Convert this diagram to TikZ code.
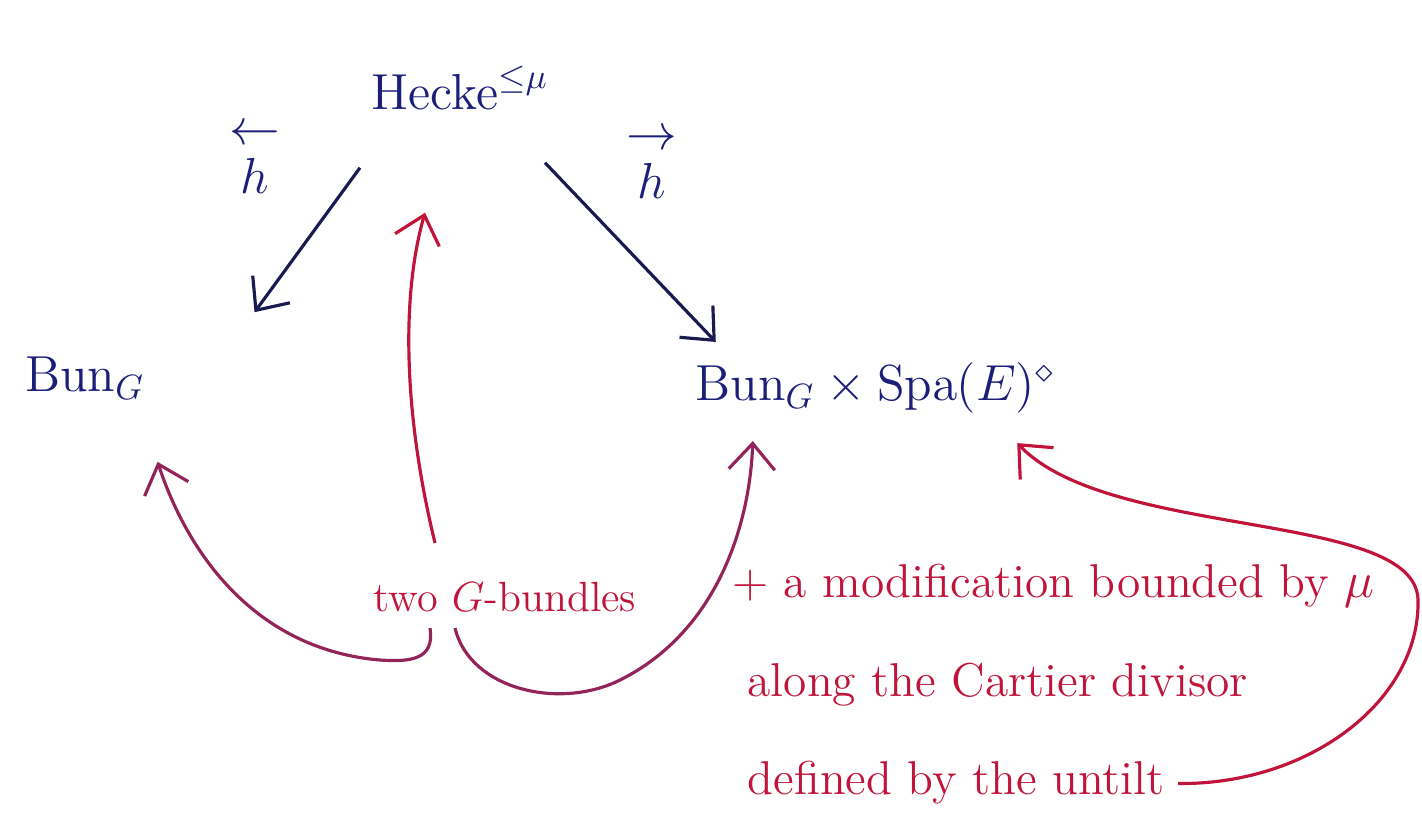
\documentclass[tikz,border=0pt]{standalone}
\usepackage{amsmath}
\usepackage{amssymb}
\usepackage{tikz}
\usetikzlibrary{arrows.meta, positioning, calc}
\definecolor{inkblue}{HTML}{1C1F78}
\definecolor{inknavy}{HTML}{181A50}
\definecolor{inkred}{HTML}{C0143A}
\definecolor{inkplum}{HTML}{93245A}

\begin{document}
\begin{tikzpicture}[
  x=0.01cm, y=-0.01cm,
  space/.style={inner sep=2pt, font=\Large\color{inkblue}},
  maplabel/.style={inner sep=1pt, align=center, font=\Large\color{inkblue}},
  note/.style={inner sep=1pt, align=left, font=\fontsize{13.5}{16}\selectfont\color{inkred}},
  arrow/.style={-{Straight Barb[length=2.6mm, width=4.6mm]}, line width=0.9pt, color=inknavy},
  redarrow/.style={arrow, color=inkred},
  plumarrow/.style={arrow, color=inkplum}
]
  \useasboundingbox (0,0) rectangle (1422,838);

  % the three spaces
  \node[space] (hecke) at (460,88) {$\mathrm{Hecke}^{\leq\mu}$};
  \node[space] (bunl) at (85,378) {$\mathrm{Bun}_G$};
  \node[space] (bunr) at (875,388) {$\mathrm{Bun}_G\times\mathrm{Spa}(E)^{\diamond}$};

  \node[maplabel] (hl) at (255,160) {$\leftarrow$\\[-4pt]$h$};
  \node[maplabel] (hr) at (652,165) {$\rightarrow$\\[-4pt]$h$};

  % red notes
  \node[note, font=\large\color{inkred}] (two) at (505,597) {two $G$-bundles};
  \node[note, anchor=north west] (mod) at (728,560)
    {+ a modification bounded by $\mu$\\[12pt]
     \ along the Cartier divisor\\[12pt]
     \ defined by the untilt};

  \draw[arrow] ($(hecke.south)+(-100,50)$) -- ($(bunl.north east)+(102,-37)$);
  \draw[arrow] ($(hecke.south)+(85,45)$) -- ($(bunr.north west)+(28,-13)$);

  \draw[redarrow] ($(two.north)+(-70,-35)$) .. controls (405,420) and (400,300) .. ($(hecke.south)+(-35,95)$);
  \draw[plumarrow] ($(two.south)+(-75,12)$) .. controls (435,660) and (410,662) .. (380,660)
    .. controls (260,650) and (190,560) .. ($(bunl.south east)+(5,55)$);
  \draw[plumarrow] ($(two.south)+(-50,12)$) .. controls (470,690) and (560,710) .. (620,680)
    .. controls (720,630) and (750,520) .. ($(bunr.south west)+(65,20)$);
  \draw[redarrow] ($(mod.south west)+(450,-25)$) .. controls (1310,785) and (1420,700) .. (1418,600)
    .. controls (1416,510) and (1110,540) .. ($(bunr.south east)+(-45,22)$);
\end{tikzpicture}
\end{document}
